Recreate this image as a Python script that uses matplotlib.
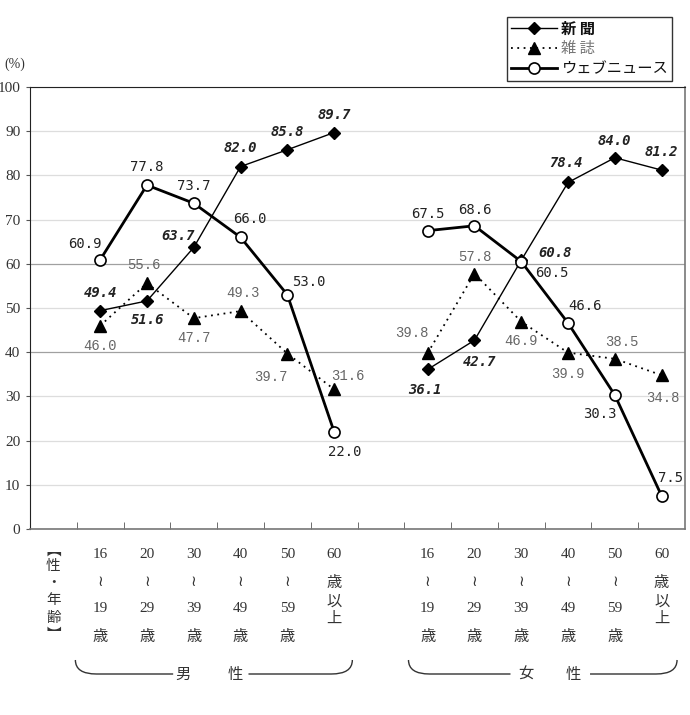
import numpy as np
import matplotlib
matplotlib.use("Agg")
import matplotlib.pyplot as plt
from matplotlib.path import Path
from matplotlib.patches import PathPatch
from matplotlib.transforms import blended_transform_factory

# ---- data ----
male_pos = [1, 2, 3, 4, 5, 6]
female_pos = [8, 9, 10, 11, 12, 13]
age_labels = ["16\n≀\n19\n歳", "20\n≀\n29\n歳", "30\n≀\n39\n歳",
              "40\n≀\n49\n歳", "50\n≀\n59\n歳", "60\n歳\n以\n上"]

shinbun_m = [49.4, 51.6, 63.7, 82.0, 85.8, 89.7]
shinbun_f = [36.1, 42.7, 60.8, 78.4, 84.0, 81.2]
zasshi_m = [46.0, 55.6, 47.7, 49.3, 39.7, 31.6]
zasshi_f = [39.8, 57.8, 46.9, 39.9, 38.5, 34.8]
web_m = [60.9, 77.8, 73.7, 66.0, 53.0, 22.0]
web_f = [67.5, 68.6, 60.5, 46.6, 30.3, 7.5]

# label offsets in pixels (dx, dy), male then female
shinbun_off = [(0, 18), (1, -19), (-16, 11), (0, 19), (0, 18), (0, 18),
               (-3, -21), (5, -22), (34, 7), (-2, 19), (0, 17), (0, 18)]
zasshi_off = [(0, -20), (-3, 18), (0, -20), (2, 18), (-16, -23), (14, 13),
              (-16, 20), (0, 17), (0, -19), (0, -21), (7, 17), (1, -23)]
web_off = [(-15, 16), (0, 18), (0, 17), (9, 18), (21, 13), (11, -20),
           (0, 17), (0, 16), (31, -11), (17, 17), (-15, -19), (9, 18)]

JP = "Noto Sans CJK JP"

fig = plt.figure(figsize=(6.9, 7.15), dpi=100)
ax = fig.add_axes([30 / 690, 1 - 529 / 715, 655 / 690, 442 / 715])


def draw_series(vals_m, vals_f, **kw):
    line = None
    for pos, vals in ((male_pos, vals_m), (female_pos, vals_f)):
        line, = ax.plot(pos, vals, **kw)
    return line


h_shin = draw_series(shinbun_m, shinbun_f, color="black", lw=1.0, marker="D",
                     ms=6, mfc="black", mec="black", zorder=4)
h_zas = draw_series(zasshi_m, zasshi_f, color="black", lw=1.3, ls=(0, (1, 2.5)),
                    marker="^", ms=8, mfc="black", mec="black", zorder=3)
h_web = draw_series(web_m, web_f, color="black", lw=2.0, marker="o", ms=8,
                    mfc="white", mec="black", mew=1.2, zorder=5)

all_pos = male_pos + female_pos


def label_series(vals, offs, **kw):
    for x, v, (dx, dy) in zip(all_pos, vals, offs):
        ax.annotate(f"{v:.1f}", (x, v), xytext=(dx, dy),
                    textcoords="offset pixels", ha="center", va="center",
                    zorder=6, **kw)


label_series(shinbun_m + shinbun_f, shinbun_off, fontsize=10,
             family="DejaVu Sans Mono", weight="bold", style="italic",
             color="#222222")
label_series(zasshi_m + zasshi_f, zasshi_off, fontsize=10,
             family="Liberation Mono", color="#666666")
label_series(web_m + web_f, web_off, fontsize=10,
             family="DejaVu Sans Mono", color="#222222")

# axes styling
ax.set_xlim(-0.5, 13.5)
ax.set_ylim(0, 100)
ax.set_yticks(range(0, 101, 10))
ax.set_yticklabels([str(v) for v in range(0, 101, 10)],
                   family="Liberation Serif", fontsize=11, color="#333333")
ax.tick_params(axis="y", length=3, pad=4, color="#555555")
ax.set_xticks([])
ax.set_xticks(np.arange(0.5, 13, 1), minor=True)
ax.tick_params(axis="x", which="minor", direction="in", length=5,
               color="#555555")
ax.grid(axis="y", color="#dddddd", lw=0.9)
for gl, v in zip(ax.get_ygridlines(), range(0, 101, 10)):
    if v in (40, 60):
        gl.set_color("#a0a0a0")
ax.set_axisbelow(True)
for side in ("left", "top"):
    ax.spines[side].set_color("#222222")
for side in ("right", "bottom"):
    ax.spines[side].set_color("#777777")
    ax.spines[side].set_linewidth(1.2)

fig.text(15 / 690, 1 - 64 / 715, "(%)", family="Liberation Serif",
         fontsize=10, color="#333333", ha="center", va="center")

# category labels below the axis
trans = blended_transform_factory(ax.transData, ax.transAxes)
ys_std = [554, 583, 609, 637]
ys_60 = [555, 583, 602, 619]
for group in (male_pos, female_pos):
    for x, lab in zip(group, age_labels):
        parts = lab.split("\n")
        ys = ys_60 if parts[1] == "歳" else ys_std
        for s, y in zip(parts, ys):
            ax.text(x, (529 - y) / 442, s, transform=trans, ha="center",
                    va="center", fontsize=11, color="#333333",
                    family=["Liberation Serif", "DejaVu Sans", JP],
                    clip_on=False)

# vertical 【性・年齢】
for ch, y in zip(["︻", "性", "・", "年", "齢", "︼"],
                 [551, 566, 583, 600, 618, 635]):
    ax.text(0, (529 - y) / 442, ch, transform=trans, ha="center",
            va="center", fontsize=10.5, color="#333333", family=JP,
            clip_on=False)


def brace(x0, x1, gap_l, gap_r, r=0.45):
    yt, yb = (529 - 660) / 442, (529 - 674) / 442
    verts = [(x0, yt), (x0, yb), (x0 + r, yb), (gap_l, yb),
             (gap_r, yb), (x1 - r, yb), (x1, yb), (x1, yt)]
    codes = [Path.MOVETO, Path.CURVE3, Path.CURVE3, Path.LINETO,
             Path.MOVETO, Path.LINETO, Path.CURVE3, Path.CURVE3]
    ax.add_patch(PathPatch(Path(verts, codes), transform=trans, fill=False,
                           lw=1.0, color="#333333", clip_on=False))


brace(0.47, 6.39, 2.56, 4.17)
brace(7.59, 13.33, 9.77, 11.47)
for x, s in [(2.76, "男"), (3.89, "性"), (10.1, "女"), (11.1, "性")]:
    ax.text(x, (529 - 674) / 442, s, transform=trans, ha="center",
            va="center", fontsize=11, color="#333333", family=JP,
            clip_on=False)

# legend
leg = fig.legend([h_shin, h_zas, h_web], ["新 聞", "雑 誌", "ウェブニュース"],
                 loc="upper right", bbox_to_anchor=(672 / 690, 1 - 17 / 715),
                 prop={"family": JP, "size": 11}, fancybox=False,
                 edgecolor="#333333", framealpha=1, handlelength=3.0,
                 handletextpad=0.3, labelspacing=0.2, borderpad=0.25,
                 borderaxespad=0)
leg.get_frame().set_linewidth(1.0)
for t, c, w in zip(leg.get_texts(), ["#111111", "#777777", "#111111"],
                   ["bold", "normal", "normal"]):
    t.set_color(c)
    t.set_fontweight(w)

fig.savefig("out.png", dpi=100)
